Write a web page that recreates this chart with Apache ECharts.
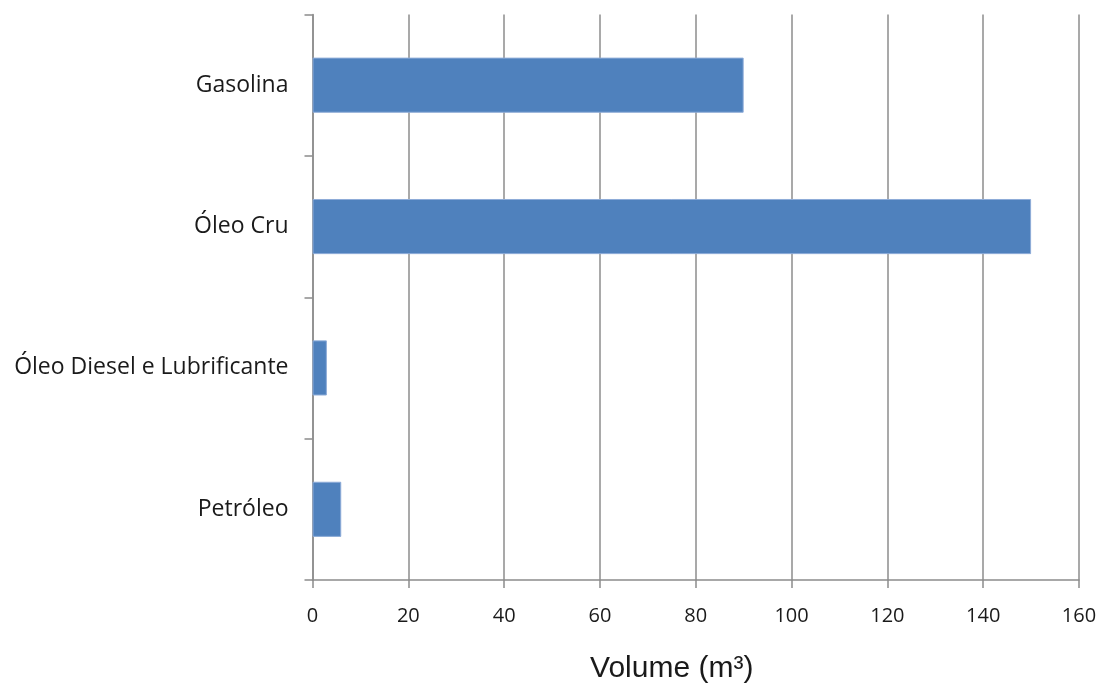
<!DOCTYPE html>
<html><head><meta charset="utf-8">
<script src="https://cdn.jsdelivr.net/npm/echarts@6/dist/echarts.min.js"></script>
<style>html,body{margin:0;padding:0;background:#fff}#c{width:1108px;height:689px}</style>
</head><body><div id="c"></div>
<script>
const categories = ['Petróleo', 'Óleo Diesel e Lubrificante', 'Óleo Cru', 'Gasolina'];
const volumes = [6, 3, 150, 90];
const xTicks = {min: 0, max: 160, interval: 20};
const xName = 'Volume (m³)';

const chart = echarts.init(document.getElementById('c'), null, {renderer: 'canvas'});
chart.setOption({
  animation: false,
  grid: {left: 312.5, right: 29, top: 14.5, bottom: 107, containLabel: false},
  xAxis: {
    type: 'value', min: xTicks.min, max: xTicks.max, interval: xTicks.interval,
    name: xName, nameLocation: 'middle', nameGap: 74,
    nameTextStyle: {fontFamily: 'Liberation Sans', fontSize: 30, color: '#1a1a1a', padding: [0, 48, 0, 0]},
    axisLine: {show: true, lineStyle: {color: '#8c8c8c', width: 1.5}},
    axisTick: {show: true, length: 8, lineStyle: {color: '#8c8c8c', width: 1.5}},
    axisLabel: {margin: 26, fontFamily: 'Open Sans', fontSize: 20, color: '#1a1a1a'},
    splitLine: {show: true, lineStyle: {color: '#8c8c8c', width: 1.5}}
  },
  yAxis: {
    type: 'category', data: categories,
    axisLine: {show: true, lineStyle: {color: '#8c8c8c', width: 1.5}},
    axisTick: {show: true, length: 8, lineStyle: {color: '#8c8c8c', width: 1.5}},
    axisLabel: {margin: 24, fontFamily: 'Open Sans', fontSize: 23, color: '#1a1a1a'},
    splitLine: {show: false}
  },
  series: [{
    type: 'bar', data: volumes, barCategoryGap: '61%',
    itemStyle: {color: '#4f81bd', borderColor: '#8eacd8', borderWidth: 1}
  }]
});
</script></body></html>
